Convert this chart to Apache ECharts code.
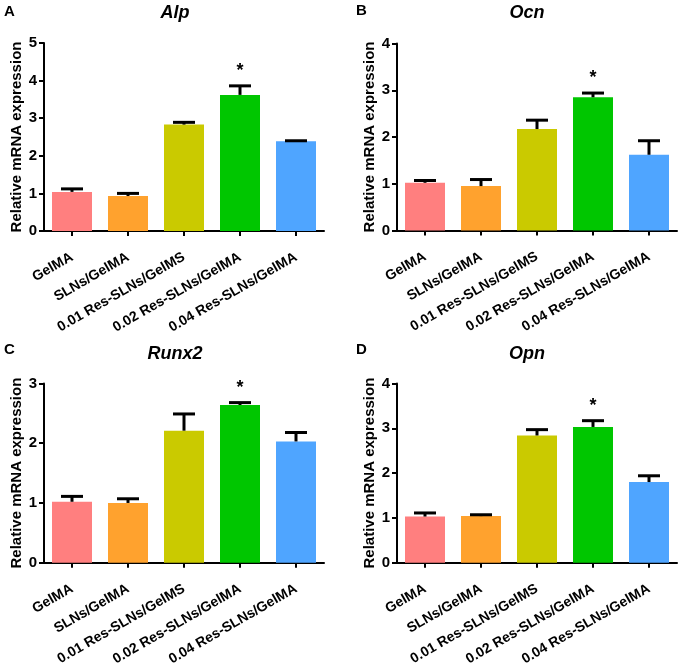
<!DOCTYPE html>
<html>
<head>
<meta charset="utf-8">
<script src="https://cdn.jsdelivr.net/npm/echarts@6/dist/echarts.min.js"></script>
<style>html,body{margin:0;padding:0;background:#fff;}#c{width:680px;height:668px;}</style>
</head>
<body>
<div id="c"></div>
<script>
const categories = ['GelMA', 'SLNs/GelMA', '0.01 Res-SLNs/GelMS', '0.02 Res-SLNs/GelMA', '0.04 Res-SLNs/GelMA'];
const barColors = ['#FF7F7F', '#FFA22E', '#CACA00', '#00C600', '#4FA5FF'];

const alpMean = [1.04, 0.93, 2.83, 3.62, 2.39];
const alpSD   = [0.08, 0.07, 0.06, 0.24, 0.01];
const ocnMean = [1.02, 0.95, 2.17, 2.85, 1.62];
const ocnSD   = [0.05, 0.14, 0.19, 0.09, 0.30];
const runx2Mean = [1.02, 1.00, 2.21, 2.64, 2.03];
const runx2SD   = [0.09, 0.07, 0.28, 0.04, 0.15];
const opnMean = [1.03, 1.04, 2.84, 3.03, 1.80];
const opnSD   = [0.08, 0.03, 0.13, 0.14, 0.14];

const alpTicks = [0, 1, 2, 3, 4, 5];
const ocnTicks = [0, 1, 2, 3, 4];
const runx2Ticks = [0, 1, 2, 3];
const opnTicks = [0, 1, 2, 3, 4];

const sigIndex = 3; // asterisk on 0.02 Res-SLNs/GelMA

const FONT = 'Liberation Sans, Arial, sans-serif';

const panels = [
  { letter: 'A', title: 'Alp',   mean: alpMean,   sd: alpSD,   ticks: alpTicks,   grid: {left: 44, top: 43, width: 280, height: 188}, titleX: 175, titleY: 4, letterX: 4, letterY: 4 },
  { letter: 'B', title: 'Ocn',   mean: ocnMean,   sd: ocnSD,   ticks: ocnTicks,   grid: {left: 397, top: 43.5, width: 280, height: 187}, titleX: 527, titleY: 4, letterX: 356, letterY: 3 },
  { letter: 'C', title: 'Runx2', mean: runx2Mean, sd: runx2SD, ticks: runx2Ticks, grid: {left: 44, top: 383.5, width: 280, height: 187}, titleX: 175, titleY: 345, letterX: 4, letterY: 342 },
  { letter: 'D', title: 'Opn',   mean: opnMean,   sd: opnSD,   ticks: opnTicks,   grid: {left: 397, top: 383.5, width: 280, height: 188}, titleX: 527, titleY: 345, letterX: 356, letterY: 342 }
];

const grids = [], xAxes = [], yAxes = [], series = [], titles = [];

panels.forEach((p, i) => {
  grids.push(Object.assign({containLabel: false}, p.grid));
  xAxes.push({
    type: 'category', gridIndex: i, data: categories,
    axisLine: {lineStyle: {color: '#000', width: 2}},
    axisTick: {show: true, inside: false, alignWithLabel: true, length: 5, lineStyle: {color: '#000', width: 2}},
    axisLabel: {interval: 0, rotate: 30, margin: 25, color: '#000', fontWeight: 'bold', fontSize: 14, fontFamily: FONT}
  });
  const mx = p.ticks[p.ticks.length - 1];
  yAxes.push({
    type: 'value', gridIndex: i, min: 0, max: mx, interval: 1,
    name: 'Relative mRNA expression', nameLocation: 'middle', nameGap: 20,
    nameTextStyle: {color: '#000', fontWeight: 'bold', fontSize: 15, fontFamily: FONT},
    axisLine: {show: true, lineStyle: {color: '#000', width: 2}},
    axisTick: {show: true, inside: false, length: 5, lineStyle: {color: '#000', width: 2}},
    axisLabel: {color: '#000', fontWeight: 'bold', fontSize: 15, fontFamily: FONT, margin: 7},
    splitLine: {show: false}
  });
  series.push({
    type: 'bar', xAxisIndex: i, yAxisIndex: i, barWidth: 40,
    data: p.mean.map((v, k) => ({value: v, itemStyle: {color: barColors[k]}})),
    silent: true, animation: false
  });
  const sd = p.sd;
  series.push({
    type: 'custom', xAxisIndex: i, yAxisIndex: i, animation: false, silent: true, z: 5,
    data: p.mean.map((v, k) => [k, v, v + sd[k]]),
    renderItem: function (params, api) {
      const k = api.value(0);
      const base = api.coord([k, api.value(1)]);
      const top = api.coord([k, api.value(2)]);
      const children = [
        {type: 'line', shape: {x1: base[0], y1: base[1], x2: top[0], y2: top[1]}, style: {stroke: '#000', lineWidth: 3}},
        {type: 'line', shape: {x1: top[0] - 11, y1: top[1], x2: top[0] + 11, y2: top[1]}, style: {stroke: '#000', lineWidth: 3}}
      ];
      if (k === sigIndex) {
        children.push({type: 'text', style: {text: '*', x: top[0], y: top[1] - 15, align: 'center', verticalAlign: 'middle', fill: '#000', font: 'bold 18px ' + FONT}});
      }
      return {type: 'group', children: children};
    }
  });
  titles.push({text: p.title, left: p.titleX, top: p.titleY, textAlign: 'center', padding: 0,
    textStyle: {fontSize: 18, fontWeight: 'bold', fontStyle: 'italic', color: '#000', fontFamily: FONT}});
  titles.push({text: p.letter, left: p.letterX, top: p.letterY, padding: 0,
    textStyle: {fontSize: 15, fontWeight: 'bold', color: '#000', fontFamily: FONT}});
});

const chart = echarts.init(document.getElementById('c'), null, {renderer: 'canvas'});
chart.setOption({
  backgroundColor: '#fff',
  animation: false,
  title: titles,
  grid: grids,
  xAxis: xAxes,
  yAxis: yAxes,
  series: series
});
</script>
</body>
</html>
